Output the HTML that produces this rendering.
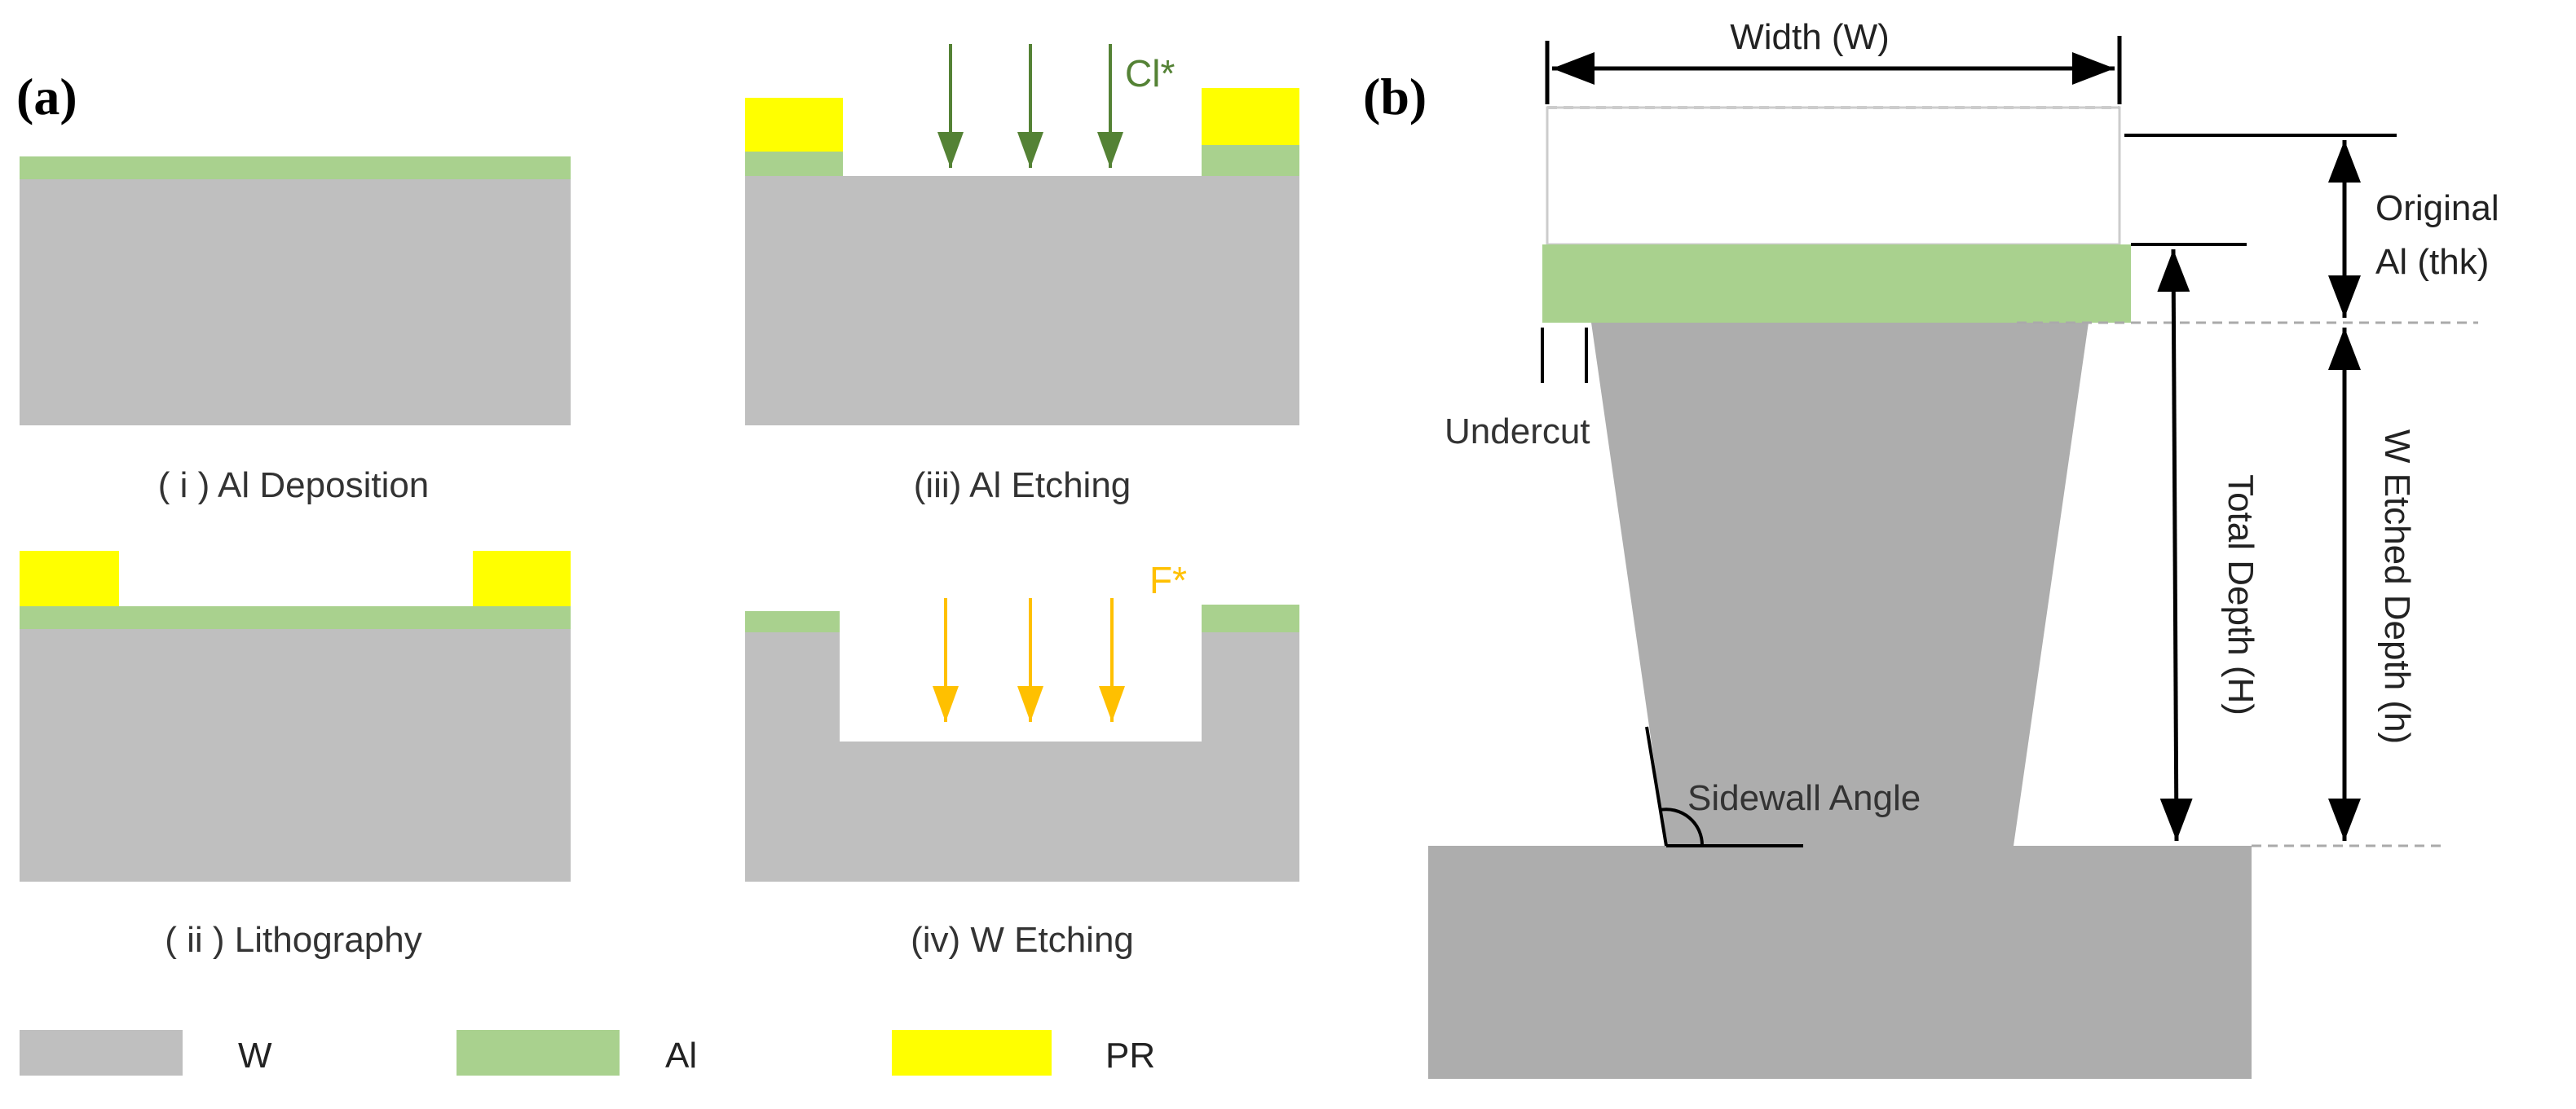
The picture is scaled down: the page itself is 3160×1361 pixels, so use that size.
<!DOCTYPE html>
<html><head><style>html,body{margin:0;padding:0;background:#fff}svg{display:block}</style></head>
<body>
<svg width="3160" height="1361" viewBox="0 0 1580 680.5" xmlns="http://www.w3.org/2000/svg" font-family="Liberation Sans, sans-serif">
<defs>
<marker id="ag" markerWidth="24" markerHeight="16" viewBox="0 0 24 16" refX="22" refY="8" orient="auto-start-reverse" markerUnits="userSpaceOnUse"><path d="M0,0 L22,8 L0,16 Z" fill="#548235"/></marker>
<marker id="ao" markerWidth="24" markerHeight="16" viewBox="0 0 24 16" refX="22" refY="8" orient="auto-start-reverse" markerUnits="userSpaceOnUse"><path d="M0,0 L22,8 L0,16 Z" fill="#FFC000"/></marker>
<marker id="ab" markerWidth="28" markerHeight="20" viewBox="0 0 28 20" refX="26" refY="10" orient="auto-start-reverse" markerUnits="userSpaceOnUse"><path d="M0,0 L26,10 L0,20 Z" fill="#000"/></marker>
</defs>
<!-- (a) -->
<text x="10" y="70" font-family="Liberation Serif, serif" font-weight="bold" font-size="32">(a)</text>
<!-- i -->
<rect x="12" y="96" width="338" height="14" fill="#A9D18E"/>
<rect x="12" y="110" width="338" height="151" fill="#BFBFBF"/>
<text x="180" y="305" font-size="22" text-anchor="middle" fill="#333">( i ) Al Deposition</text>
<!-- iii -->
<rect x="457" y="108" width="340" height="153" fill="#BFBFBF"/>
<rect x="457" y="60" width="60" height="33" fill="#FFFF00"/>
<rect x="457" y="93" width="60" height="15" fill="#A9D18E"/>
<rect x="737" y="54" width="60" height="35" fill="#FFFF00"/>
<rect x="737" y="89" width="60" height="19" fill="#A9D18E"/>
<g stroke="#548235" stroke-width="2"><line x1="583" y1="27" x2="583" y2="103" marker-end="url(#ag)"/><line x1="632" y1="27" x2="632" y2="103" marker-end="url(#ag)"/><line x1="681" y1="27" x2="681" y2="103" marker-end="url(#ag)"/></g>
<text x="690" y="53" font-size="23" fill="#548235">Cl*</text>
<text x="627" y="305" font-size="22" text-anchor="middle" fill="#333">(iii) Al Etching</text>
<!-- ii -->
<rect x="12" y="338" width="61" height="34" fill="#FFFF00"/>
<rect x="290" y="338" width="60" height="34" fill="#FFFF00"/>
<rect x="12" y="372" width="338" height="14" fill="#A9D18E"/>
<rect x="12" y="386" width="338" height="155" fill="#BFBFBF"/>
<text x="180" y="584" font-size="22" text-anchor="middle" fill="#333">( ii ) Lithography</text>
<!-- iv -->
<path d="M457,388 H515 V455 H737 V388 H797 V541 H457 Z" fill="#BFBFBF"/>
<rect x="457" y="375" width="58" height="13" fill="#A9D18E"/>
<rect x="737" y="371" width="60" height="17" fill="#A9D18E"/>
<g stroke="#FFC000" stroke-width="2"><line x1="580" y1="367" x2="580" y2="443" marker-end="url(#ao)"/><line x1="632" y1="367" x2="632" y2="443" marker-end="url(#ao)"/><line x1="682" y1="367" x2="682" y2="443" marker-end="url(#ao)"/></g>
<text x="705" y="364" font-size="23" fill="#FFC000">F*</text>
<text x="627" y="584" font-size="22" text-anchor="middle" fill="#333">(iv) W Etching</text>
<!-- legend -->
<rect x="12" y="632" width="100" height="28" fill="#BFBFBF"/>
<text x="146" y="655" font-size="22" fill="#222">W</text>
<rect x="280" y="632" width="100" height="28" fill="#A9D18E"/>
<text x="408" y="655" font-size="22" fill="#222">Al</text>
<rect x="547" y="632" width="98" height="28" fill="#FFFF00"/>
<text x="678" y="655" font-size="22" fill="#222">PR</text>
<!-- (b) -->
<text x="836" y="70" font-family="Liberation Serif, serif" font-weight="bold" font-size="32">(b)</text>
<text x="1110" y="30" font-size="22" text-anchor="middle" fill="#222">Width (W)</text>
<g stroke="#000" stroke-width="2.5">
<line x1="949" y1="25" x2="949" y2="64"/><line x1="1300" y1="22" x2="1300" y2="64"/>
<line x1="952" y1="42" x2="1297" y2="42" marker-start="url(#ab)" marker-end="url(#ab)"/>
</g>
<rect x="949" y="66" width="351" height="84" fill="none" stroke="#ccc" stroke-width="1.5"/>
<line x1="949" y1="66" x2="1300" y2="66" stroke="#ccc" stroke-width="2" stroke-dasharray="6,4"/>
<path d="M976,198 H1281 L1235,519 H1022 Z" fill="#ADADAD"/>
<rect x="876" y="519" width="505" height="143" fill="#ADADAD"/>
<rect x="946" y="150" width="361" height="48" fill="#A9D18E"/>
<g stroke="#000" stroke-width="2">
<line x1="946" y1="201" x2="946" y2="235"/><line x1="973" y1="201" x2="973" y2="235"/>
<line x1="1307" y1="150" x2="1378" y2="150"/>
<line x1="1303" y1="83" x2="1470" y2="83"/>
</g>
<g stroke="#aaa" stroke-width="1.5" stroke-dasharray="6,4">
<line x1="1237" y1="198" x2="1520" y2="198"/>
<line x1="1381" y1="519" x2="1500" y2="519"/>
</g>
<g stroke="#000" stroke-width="2.5">
<line x1="1438" y1="86" x2="1438" y2="195" marker-start="url(#ab)" marker-end="url(#ab)"/>
<line x1="1438" y1="201" x2="1438" y2="516" marker-start="url(#ab)" marker-end="url(#ab)"/>
<line x1="1333" y1="153" x2="1335" y2="516" marker-start="url(#ab)" marker-end="url(#ab)"/>
</g>
<text x="1457" y="135" font-size="22" fill="#222">Original</text>
<text x="1457" y="168" font-size="22" fill="#222">Al (thk)</text>
<text x="886" y="272" font-size="22" fill="#333">Undercut</text>
<text transform="translate(1367,365) rotate(90)" font-size="22" text-anchor="middle" fill="#222">Total Depth (H)</text>
<text transform="translate(1463,360) rotate(90)" font-size="22" text-anchor="middle" fill="#222">W Etched Depth (h)</text>
<g stroke="#000" stroke-width="2" fill="none">
<line x1="1022" y1="519" x2="1010" y2="446"/>
<line x1="1022" y1="519" x2="1106" y2="519"/>
<path d="M1018,497 A22,22 0 0 1 1044,519"/>
</g>
<text x="1035" y="497" font-size="22" fill="#333">Sidewall Angle</text>
</svg>
</body></html>
